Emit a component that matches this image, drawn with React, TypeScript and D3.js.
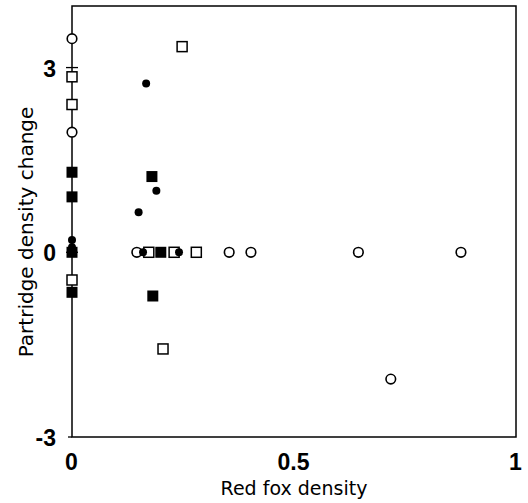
import React, { useEffect, useRef } from 'react';
import * as d3 from 'd3';

// red fox density vs partridge density change, one array per marker type
const openCircles: [number, number][] = [
  [0, 3.47], [0, 1.95], [0.146, 0], [0.354, 0], [0.403, 0],
  [0.645, 0], [0.876, 0], [0.718, -2.06],
];
const openSquares: [number, number][] = [
  [0, 2.85], [0, 2.4], [0.248, 3.34], [0.173, 0], [0.23, 0],
  [0.28, 0], [0.205, -1.57], [0, -0.45],
];
const filledCircles: [number, number][] = [
  [0.167, 2.74], [0.19, 1.0], [0.15, 0.65], [0.16, 0], [0.241, 0],
  [0, 0.2], [0, 0.08],
];
const filledSquares: [number, number][] = [
  [0, 1.3], [0, 0.9], [0.18, 1.23], [0.2, 0], [0.182, -0.71],
  [0, 0], [0, -0.65],
];

const xTicks = [0, 0.5, 1];
const xTickLabels = ['0', '0.5', '1'];
const yTicks = [-3, 0, 3];
const yTickLabels = ['-3', '0', '3'];

export default function App() {
  const svgRef = useRef<SVGSVGElement>(null);

  useEffect(() => {
    if (!svgRef.current) return;
    const svg = d3.select(svgRef.current);
    svg.selectAll('*').remove();

    const left = 72, right = 516, top = 6, bottom = 437;
    const x = d3.scaleLinear().domain([0, 1]).range([left, right]);
    const y = d3.scaleLinear().domain([-3, 4]).range([bottom, top]);

    // frame
    svg.append('rect')
      .attr('x', left).attr('y', top)
      .attr('width', right - left).attr('height', bottom - top)
      .attr('fill', 'none').attr('stroke', '#000').attr('stroke-width', 1.5);

    // y ticks crossing the axis
    svg.append('g').selectAll('line')
      .data(yTicks)
      .join('line')
      .attr('x1', d => (d === -3 ? left - 4 : left - 6))
      .attr('x2', d => (d === -3 ? left : left + 6))
      .attr('y1', d => y(d)).attr('y2', d => y(d))
      .attr('stroke', '#000').attr('stroke-width', 1.3);

    const tickFont = '"Liberation Sans", Arial, sans-serif';

    svg.append('g').selectAll('text')
      .data(yTicks)
      .join('text')
      .attr('x', left - 16)
      .attr('y', d => y(d) + 9)
      .attr('text-anchor', 'end')
      .attr('font-family', tickFont)
      .attr('font-weight', 'bold')
      .attr('font-size', 23)
      .text((d, i) => yTickLabels[i]);

    svg.append('g').selectAll('text')
      .data(xTicks)
      .join('text')
      .attr('x', d => x(d) - 0.5)
      .attr('y', 470)
      .attr('text-anchor', 'middle')
      .attr('font-family', tickFont)
      .attr('font-weight', 'bold')
      .attr('font-size', 23)
      .text((d, i) => xTickLabels[i]);

    // axis titles
    svg.append('text')
      .attr('x', (left + right) / 2)
      .attr('y', 495)
      .attr('text-anchor', 'middle')
      .attr('font-family', '"DejaVu Sans", sans-serif')
      .attr('font-size', 19)
      .text('Red fox density');

    svg.append('text')
      .attr('transform', 'translate(33, 232) rotate(-90)')
      .attr('text-anchor', 'middle')
      .attr('font-family', '"DejaVu Sans", sans-serif')
      .attr('font-size', 20)
      .text('Partridge density change');

    // open markers first, filled ones on top
    svg.append('g').selectAll('circle')
      .data(openCircles)
      .join('circle')
      .attr('cx', d => x(d[0])).attr('cy', d => y(d[1]))
      .attr('r', 4.8)
      .attr('fill', '#fff').attr('stroke', '#000').attr('stroke-width', 1.6);

    svg.append('g').selectAll('rect')
      .data(openSquares)
      .join('rect')
      .attr('x', d => x(d[0]) - 5).attr('y', d => y(d[1]) - 5)
      .attr('width', 10).attr('height', 10)
      .attr('fill', '#fff').attr('stroke', '#000').attr('stroke-width', 1.5);

    svg.append('g').selectAll('circle')
      .data(filledCircles)
      .join('circle')
      .attr('cx', d => x(d[0])).attr('cy', d => y(d[1]))
      .attr('r', 4)
      .attr('fill', '#000');

    svg.append('g').selectAll('rect')
      .data(filledSquares)
      .join('rect')
      .attr('x', d => x(d[0]) - 5.5).attr('y', d => y(d[1]) - 5.5)
      .attr('width', 11).attr('height', 11)
      .attr('fill', '#000');
  }, []);

  return (
    <svg
      ref={svgRef}
      width={528}
      height={503}
      style={{ position: 'absolute', left: 0, top: 0, background: '#fff' }}
    />
  );
}
